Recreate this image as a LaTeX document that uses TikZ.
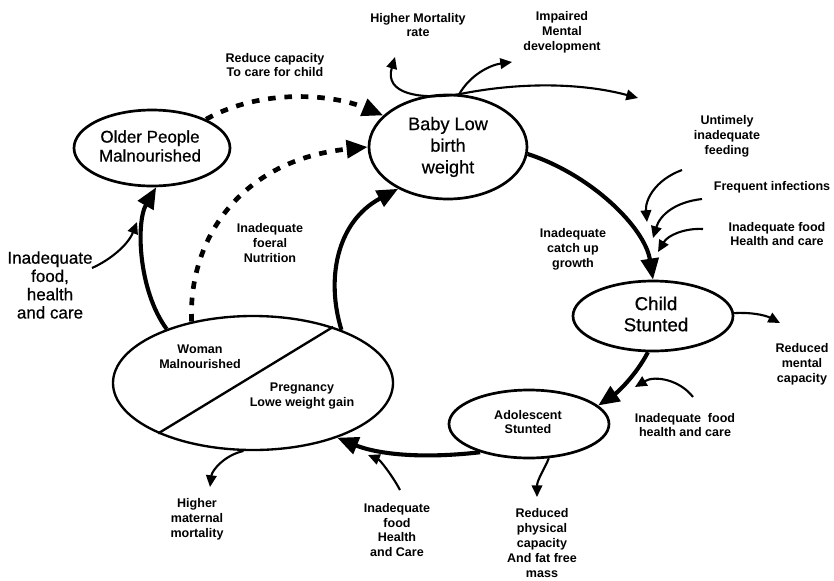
\documentclass[tikz,border=0pt]{standalone}
\usepackage{fontspec}
\setmainfont{Liberation Sans}
\newfontfamily\medfont{Liberation Sans}[FakeBold=0.6]
\usetikzlibrary{shapes.geometric,arrows.meta}
\begin{document}
\begin{tikzpicture}[x=0.03cm,y=-0.03cm,
  lbl/.style={align=center,font=\fontsize{10.7}{12.75}\selectfont\bfseries},
  big/.style={align=center,font=\medfont\fontsize{14.5}{16.2}\selectfont},
  oval/.style={draw,ellipse,line width=2.3pt,inner sep=0pt},
  fat/.style={line width=3.5pt,-{Triangle[length=18pt,width=15pt]}},
  thinarr/.style={line width=1.8pt,-{Triangle[length=10pt,width=9pt]}},
  dsh/.style={line width=4pt,dash pattern=on 6.5pt off 7.5pt,-{Triangle[length=18pt,width=15pt]}}]
\useasboundingbox (0,0) rectangle (834,580);

% main ovals
\node[oval,minimum width={156*0.03cm},minimum height={76*0.03cm}] (older) at (152,148) {};
\node[big] at (150,146) {Older People\\Malnourished};
\node[oval,minimum width={158*0.03cm},minimum height={104*0.03cm}] (baby) at (448,147) {};
\node[big,font=\medfont\fontsize{15.5}{18.4}\selectfont] at (448,147) {Baby Low\\birth\\weight};
\node[oval,minimum width={160*0.03cm},minimum height={70*0.03cm}] (child) at (653,316) {};
\node[big,font=\medfont\fontsize{16}{18}\selectfont] at (656,314) {Child\\Stunted};
\node[oval,minimum width={160*0.03cm},minimum height={68*0.03cm}] (adol) at (529,424) {};
\node[lbl] at (528,422) {Adolescent\\Stunted};
\node[oval,line width=2pt,minimum width={280*0.03cm},minimum height={134*0.03cm}] (woman) at (253,383) {};
\draw[line width=2pt] (woman.-152) -- (woman.35.5);
\node[lbl] at (200,357) {Woman\\Malnourished};
\node[lbl] at (302,396) {Pregnancy\\Lowe weight gain};

% labels
\node[lbl] (hm) at (418,25) {Higher Mortality\\rate};
\node[lbl] (imp) at (562,32) {Impaired\\Mental\\development};
\node[lbl] (rc) at (275,65) {Reduce capacity\\To care for child};
\node[lbl] (fn) at (270,243) {Inadequate\\foeral\\Nutrition};
\node[lbl] (unt) at (727,136) {Untimely\\inadequate\\feeding};
\node[lbl] (fi) at (772,187) {Frequent infections};
\node[lbl] (ifh) at (777,234) {Inadequate food\\Health and care};
\node[lbl] (cug) at (573,249) {Inadequate\\catch up\\growth};
\node[big,font=\medfont\fontsize{14.5}{15.6}\selectfont] (lft) at (50,285) {Inadequate\\food,\\health\\and care};
\node[lbl] (rmc) at (802,364) {Reduced\\mental\\capacity};
\node[lbl] (ifr) at (685,425) {Inadequate\ \ food\\health and care};
\node[lbl] (rpc) at (542,543) {Reduced\\physical\\capacity\\And fat free\\mass};
\node[lbl] (hmm) at (197,519) {Higher\\maternal\\mortality};
\node[lbl] (ifb) at (397,530) {Inadequate\\food\\Health\\and Care};

% free ends
\coordinate (hmT) at (395,57);
\coordinate (impT) at (512,62);
\coordinate (longT) at (638,98);
\coordinate (i1) at (682,170);
\coordinate (i1T) at (647,222);
\coordinate (i2) at (702,199);
\coordinate (i2T) at (653,238);
\coordinate (i3) at (703,229);
\coordinate (i3T) at (658,252);
\coordinate (lS) at (92,268);
\coordinate (lT) at (137,222);
\coordinate (rmT) at (780,323);
\coordinate (irS) at (693,397);
\coordinate (irT) at (635,387);
\coordinate (rpT) at (537,497);
\coordinate (hmmT) at (210,487);
\coordinate (ibS) at (400,490);
\coordinate (ibT) at (368,455);

% main cycle
\draw[fat] (woman.148) .. controls (138,290) and (136,222) .. (older.-84);
\draw[fat] (woman.31) .. controls (326,280) and (336,222) .. (baby.-140);
\draw[dsh] (woman.135) .. controls (188,240) and (240,160) .. (baby.180);
\draw[dsh] (older.28) .. controls (262,88) and (332,94) .. (baby.154);
\draw[fat] (baby.-5) .. controls (592,175) and (645,228) .. (child.90);
\draw[fat] (child.-98) .. controls (636,375) and (618,392) .. (adol.15);
\draw[fat] (adol.-150) .. controls (412,460) and (372,452) .. (woman.-33);

% thin arrows
\draw[thinarr] (baby.78) .. controls (420,100) and (384,94) .. (hmT);
\draw[thinarr] (baby.78) .. controls (470,75) and (490,65) .. (impT);
\draw[thinarr] (baby.78) .. controls (530,80) and (590,85) .. (longT);
\draw[thinarr] (i1) .. controls (655,180) and (645,200) .. (i1T);
\draw[thinarr] (i2) .. controls (675,202) and (660,215) .. (i2T);
\draw[thinarr] (i3) .. controls (685,228) and (668,235) .. (i3T);
\draw[thinarr] (lS) .. controls (110,260) and (128,245) .. (lT);
\draw[thinarr] (child.2) .. controls (750,312) and (765,315) .. (rmT);
\draw[thinarr] (irS) .. controls (680,380) and (655,375) .. (irT);
\draw[thinarr] (adol.-60) .. controls (545,468) and (537,480) .. (rpT);
\draw[thinarr] (woman.-98) .. controls (225,455) and (212,470) .. (hmmT);
\draw[thinarr] (ibS) .. controls (392,475) and (380,460) .. (ibT);
\end{tikzpicture}
\end{document}
